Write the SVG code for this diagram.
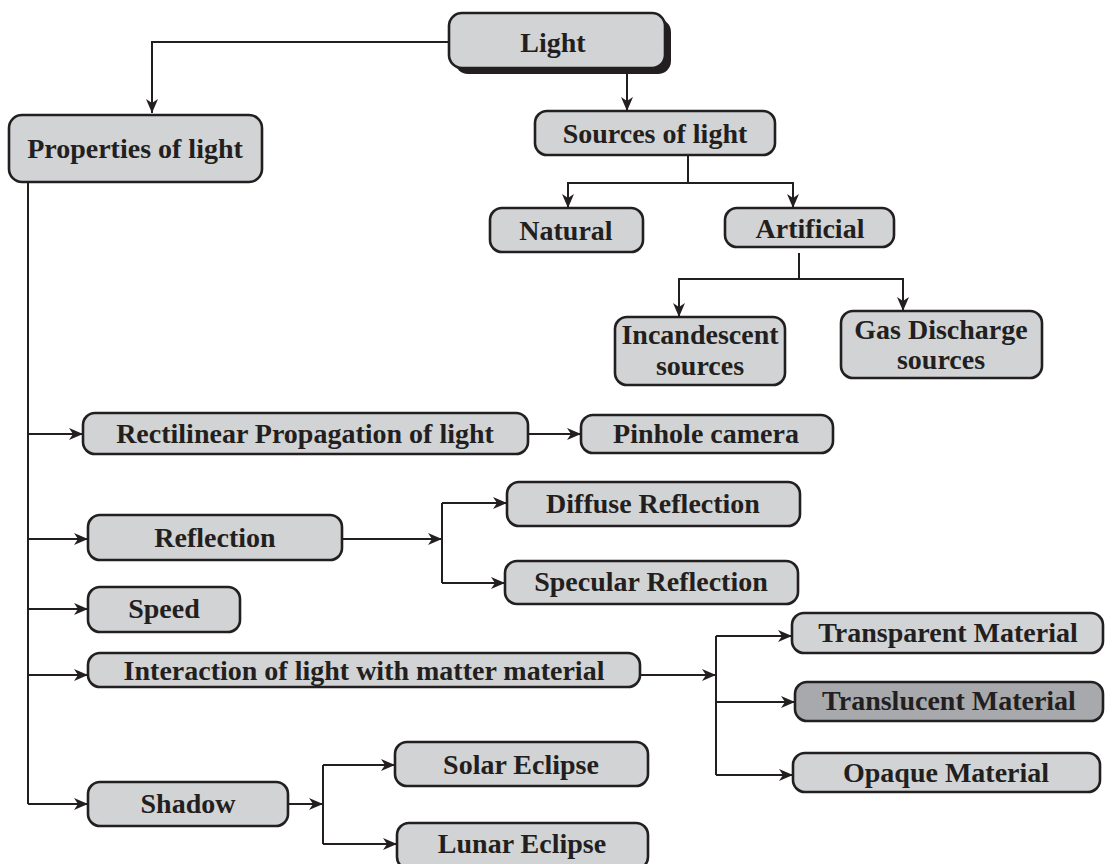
<svg xmlns="http://www.w3.org/2000/svg" width="1105" height="864" viewBox="0 0 1105 864">
<style>
.box{fill:#d1d3d4;stroke:#231f20;stroke-width:2.6}
.dark{fill:#a7a9ac}
.t{font-family:"Liberation Serif","Times New Roman",serif;font-weight:bold;font-size:28px;fill:#231f20;text-anchor:middle}
.c{fill:none;stroke:#231f20;stroke-width:2}
</style>
<defs>
<marker id="ah" markerUnits="userSpaceOnUse" markerWidth="16" markerHeight="12" refX="14" refY="6" orient="auto">
<path d="M0,0 L14,6 L0,12 L4,6 Z" fill="#231f20"/>
</marker>
</defs>
<rect width="1105" height="864" fill="#ffffff"/>
<g id="connectors">
<path class="c" d="M449,42 H152 V113" marker-end="url(#ah)"/>
<path class="c" d="M627,73 V111" marker-end="url(#ah)"/>
<path class="c" d="M688,155 V183"/>
<path class="c" d="M688,183 H568 V208" marker-end="url(#ah)"/>
<path class="c" d="M688,183 H793 V208" marker-end="url(#ah)"/>
<path class="c" d="M799,253 V279"/>
<path class="c" d="M799,279 H679 V317" marker-end="url(#ah)"/>
<path class="c" d="M799,279 H903 V311" marker-end="url(#ah)"/>
<path class="c" d="M28,182 V804"/>
<path class="c" d="M28,434 H83" marker-end="url(#ah)"/>
<path class="c" d="M528,434 H581" marker-end="url(#ah)"/>
<path class="c" d="M28,539 H88" marker-end="url(#ah)"/>
<path class="c" d="M342,539 H442" marker-end="url(#ah)"/>
<path class="c" d="M442,503 V583"/>
<path class="c" d="M442,503 H507" marker-end="url(#ah)"/>
<path class="c" d="M442,583 H505" marker-end="url(#ah)"/>
<path class="c" d="M28,609 H88" marker-end="url(#ah)"/>
<path class="c" d="M28,675 H88" marker-end="url(#ah)"/>
<path class="c" d="M640,675 H716" marker-end="url(#ah)"/>
<path class="c" d="M716,636 V775"/>
<path class="c" d="M716,636 H792" marker-end="url(#ah)"/>
<path class="c" d="M716,702 H795" marker-end="url(#ah)"/>
<path class="c" d="M716,775 H793" marker-end="url(#ah)"/>
<path class="c" d="M28,804 H88" marker-end="url(#ah)"/>
<path class="c" d="M288,804 H323" marker-end="url(#ah)"/>
<path class="c" d="M323,765 V844"/>
<path class="c" d="M323,765 H395" marker-end="url(#ah)"/>
<path class="c" d="M323,844 H397" marker-end="url(#ah)"/>
</g>
<g id="light">
<rect x="455" y="19" width="216" height="55" rx="13" fill="#231f20"/>
<rect class="box" x="449" y="13" width="216" height="55" rx="13"/>
<text class="t" x="553" y="52" font-size="31">Light</text>
</g>
<g id="properties">
<rect class="box" x="9" y="115" width="253" height="67" rx="13"/>
<text class="t" x="135" y="158">Properties of light</text>
</g>
<g id="sources">
<rect class="box" x="535" y="111" width="240" height="44" rx="12"/>
<text class="t" x="655" y="143">Sources of light</text>
</g>
<g id="natural">
<rect class="box" x="490" y="208" width="153" height="44" rx="12"/>
<text class="t" x="566" y="240">Natural</text>
</g>
<g id="artificial">
<rect class="box" x="725" y="208" width="169" height="39" rx="12"/>
<text class="t" x="810" y="238">Artificial</text>
</g>
<g id="incandescent">
<rect class="box" x="615" y="317" width="170" height="68" rx="12"/>
<text class="t" x="700" y="344">Incandescent</text>
<text class="t" x="700" y="375">sources</text>
</g>
<g id="gas">
<rect class="box" x="841" y="311" width="201" height="67" rx="12"/>
<text class="t" x="941" y="339">Gas Discharge</text>
<text class="t" x="941" y="369">sources</text>
</g>
<g id="rectilinear">
<rect class="box" x="83" y="413" width="445" height="41" rx="12"/>
<text class="t" x="305" y="443">Rectilinear Propagation of light</text>
</g>
<g id="pinhole">
<rect class="box" x="581" y="415" width="252" height="38" rx="12"/>
<text class="t" x="706" y="443">Pinhole camera</text>
</g>
<g id="reflection">
<rect class="box" x="88" y="515" width="254" height="45" rx="12"/>
<text class="t" x="215" y="547">Reflection</text>
</g>
<g id="diffuse">
<rect class="box" x="507" y="482" width="293" height="44" rx="12"/>
<text class="t" x="653" y="513">Diffuse Reflection</text>
</g>
<g id="specular">
<rect class="box" x="505" y="561" width="293" height="43" rx="12"/>
<text class="t" x="651" y="591">Specular Reflection</text>
</g>
<g id="speed">
<rect class="box" x="88" y="587" width="152" height="45" rx="12"/>
<text class="t" x="164" y="618">Speed</text>
</g>
<g id="interaction">
<rect class="box" x="88" y="653" width="552" height="34" rx="12"/>
<text class="t" x="364" y="680">Interaction of light with matter material</text>
</g>
<g id="transparent">
<rect class="box" x="792" y="613" width="311" height="40" rx="12"/>
<text class="t" x="948" y="642">Transparent Material</text>
</g>
<g id="translucent">
<rect class="box dark" x="795" y="682" width="308" height="39" rx="12"/>
<text class="t" x="949" y="710">Translucent Material</text>
</g>
<g id="opaque">
<rect class="box" x="793" y="753" width="307" height="39" rx="12"/>
<text class="t" x="946" y="782">Opaque Material</text>
</g>
<g id="shadow">
<rect class="box" x="88" y="782" width="200" height="44" rx="12"/>
<text class="t" x="188" y="813">Shadow</text>
</g>
<g id="solar">
<rect class="box" x="395" y="742" width="253" height="44" rx="12"/>
<text class="t" x="521" y="774">Solar Eclipse</text>
</g>
<g id="lunar">
<rect class="box" x="397" y="823" width="251" height="46" rx="12"/>
<text class="t" x="522" y="853">Lunar Eclipse</text>
</g>
</svg>
